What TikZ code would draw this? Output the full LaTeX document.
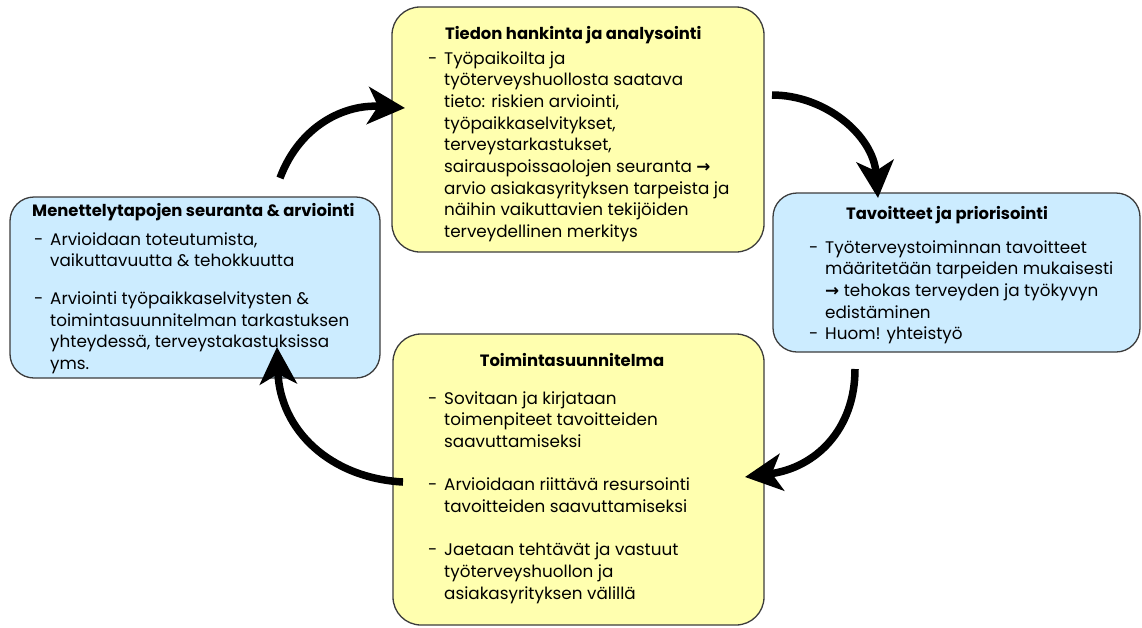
\documentclass[tikz,border=0pt]{standalone}
\usepackage{fontspec}
\setmainfont{Poppins}
\newfontfamily\symfont{DejaVu Sans}
\usetikzlibrary{arrows.meta}

\definecolor{boxyellow}{RGB}{255,255,175}
\definecolor{boxblue}{RGB}{204,236,255}
\definecolor{boxline}{RGB}{60,60,60}

% right arrow glyph taken from DejaVu Sans
\newcommand\rarr{{\symfont\bfseries →}}
% bullet lines: dash column plus text column
\newenvironment{itemlines}{\begin{tabular}[t]{@{}p{16pt}@{}l@{}}}{\end{tabular}}

\tikzset{
  panel/.style={draw=boxline, line width=1.3pt, inner sep=0pt},
  yellowpanel/.style={panel, fill=boxyellow, rounded corners=28pt},
  bluepanel/.style={panel, fill=boxblue, rounded corners=24pt},
  txt/.style={font=\fontsize{16.8}{21.7}\selectfont, inner sep=0pt, anchor=base west},
  ttl/.style={font=\fontsize{16.4}{21.7}\selectfont\bfseries, inner sep=0pt, anchor=base west},
  cycle arrow/.style={line width=7.5pt, -{Stealth[length=37pt,width=37pt,inset=10pt]}}
}

\begin{document}
\begin{tikzpicture}[x=1pt,y=-1pt]
\useasboundingbox (0,0) rectangle (1142,627);

% the four stages
\node[yellowpanel, minimum width=372pt, minimum height=245pt] (info) at (578,129.5) {};
\node[bluepanel, minimum width=367pt, minimum height=159pt] (goals) at (956.5,272.5) {};
\node[yellowpanel, minimum width=371pt, minimum height=291pt] (plan) at (578.5,479.5) {};
\node[bluepanel, minimum width=370pt, minimum height=181pt] (review) at (195,287.5) {};

% texts of the stages
\node[ttl] (info-title) at (445,39) {Tiedon hankinta ja analysointi};
\node[txt] (info-text) at (428,64) {\begin{itemlines}
- & Työpaikoilta ja\\
  & työterveyshuollosta saatava\\
  & tieto: riskien arviointi,\\
  & työpaikkaselvitykset,\\
  & terveystarkastukset,\\
  & sairauspoissaolojen seuranta \rarr\\
  & arvio asiakasyrityksen tarpeista ja\\
  & näihin vaikuttavien tekijöiden\\
  & terveydellinen merkitys
\end{itemlines}};

\node[ttl, anchor=base] (goals-title) at (947,219) {Tavoitteet ja priorisointi};
\node[txt] (goals-text) at (809,253) {\begin{itemlines}
- & Työterveystoiminnan tavoitteet\\
  & määritetään tarpeiden mukaisesti\\
  & \rarr{} tehokas terveyden ja työkyvyn\\
  & edistäminen\\
- & Huom! yhteistyö
\end{itemlines}};

\node[ttl, anchor=base] (plan-title) at (572,366) {Toimintasuunnitelma};
\node[txt] (plan-text) at (428,404) {\begin{itemlines}
- & Sovitaan ja kirjataan\\
  & toimenpiteet tavoitteiden\\
  & saavuttamiseksi\\[21.7pt]
- & Arvioidaan riittävä resursointi\\
  & tavoitteiden saavuttamiseksi\\[21.7pt]
- & Jaetaan tehtävät ja vastuut\\
  & työterveyshuollon ja\\
  & asiakasyrityksen välillä
\end{itemlines}};

\node[ttl] (review-title) at (32,216) {Menettelytapojen seuranta \& arviointi};
\node[txt] (review-text) at (34,245) {\begin{itemlines}
- & Arvioidaan toteutumista,\\
  & vaikuttavuutta \& tehokkuutta\\[16pt]
- & Arviointi työpaikkaselvitysten \&\\
  & toimintasuunnitelman tarkastuksen\\
  & yhteydessä, terveystakastuksissa\\
  & yms.
\end{itemlines}};

% cycle arrows
\coordinate (a1s) at (280,178);  \coordinate (a1e) at (405,108);
\coordinate (a2s) at (772,95);   \coordinate (a2e) at (878,198);
\coordinate (a3s) at (855,369);  \coordinate (a3e) at (745,477);
\coordinate (a4s) at (403,482);  \coordinate (a4e) at (277,347);

\draw[cycle arrow] (a1s) .. controls (300,125) and (345,104) .. (a1e);
\draw[cycle arrow] (a2s) .. controls (825,95) and (873,135) .. (a2e);
\draw[cycle arrow] (a3s) .. controls (855,430) and (815,468) .. (a3e);
\draw[cycle arrow] (a4s) .. controls (330,478) and (280,430) .. (a4e);
\end{tikzpicture}
\end{document}
